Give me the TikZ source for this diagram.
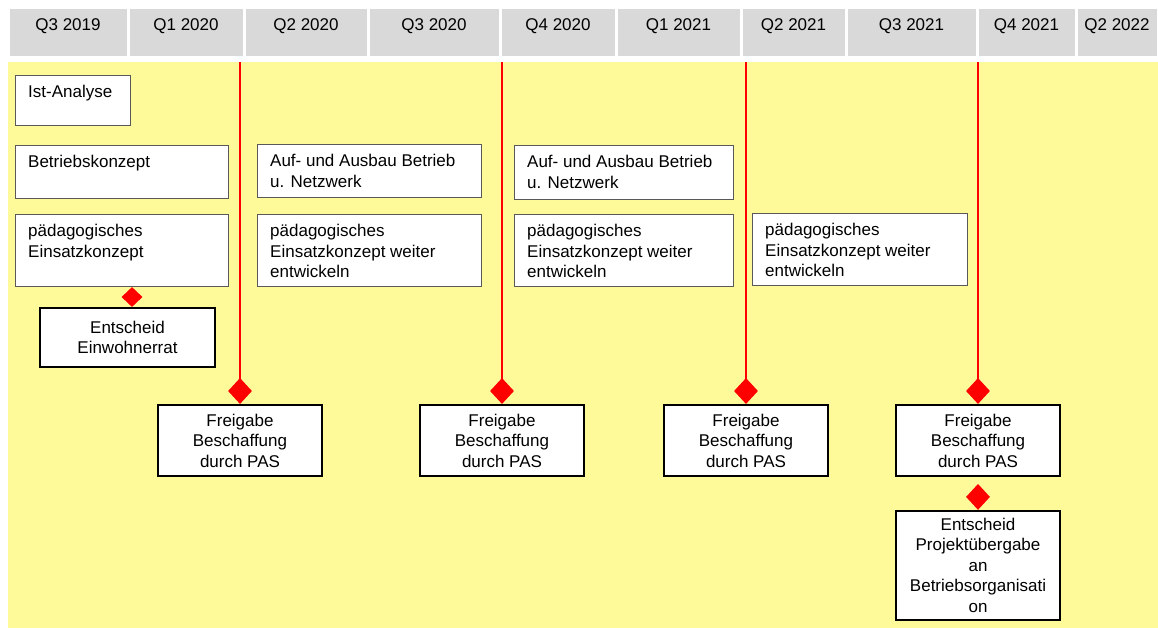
\documentclass[tikz,border=0pt]{standalone}
\usepackage{fontspec}
\setmainfont{Liberation Sans}
\usetikzlibrary{shapes.geometric}
\usetikzlibrary{positioning}

\begin{document}
\begin{tikzpicture}[x=1pt,y=-1pt,font=\fontsize{17}{20.5}\selectfont,
    qcell/.style={rectangle,fill=black!15,draw=white,line width=3pt,minimum height=50,inner sep=0pt,text height=12.3pt,text depth=18pt},
    task/.style={rectangle,draw=black!65,line width=1pt,fill=white,anchor=north west,inner sep=0pt},
    tl/.style={anchor=north west,align=left,inner xsep=13pt,inner ysep=10pt},
    mile/.style={rectangle,draw=black,line width=1.5pt,fill=white,align=center,minimum width=164,inner sep=0pt},
    gate/.style={diamond,fill=red,inner sep=0pt,minimum width=24,minimum height=26},
    redline/.style={-,red,line width=1.5pt}]
  \useasboundingbox (0,0) rectangle (1158,628);
  % quarters
  \node[qcell,minimum width=120] (q1) at (68,33) {Q3 2019};
  \node[qcell,minimum width=116] (q2) at (186,33) {Q1 2020};
  \node[qcell,minimum width=124] (q3) at (306,33) {Q2 2020};
  \node[qcell,minimum width=132] (q4) at (434,33) {Q3 2020};
  \node[qcell,minimum width=116] (q5) at (558,33) {Q4 2020};
  \node[qcell,minimum width=125] (q6) at (678.5,33) {Q1 2021};
  \node[qcell,minimum width=105] (q7) at (793.5,33) {Q2 2021};
  \node[qcell,minimum width=131] (q8) at (911.5,33) {Q3 2021};
  \node[qcell,minimum width=99] (q9) at (1026.5,33) {Q4 2021};
  \node[qcell,minimum width=82] (q10) at (1117,33) {Q2 2022};
  % area
  \fill[yellow!40] (8,62) rectangle (1158,628);
  % tasks
  \node[task,minimum width=115,minimum height=50,label={[tl]north west:Ist-Analyse}] (ist) at (15,75) {};
  \node[task,minimum width=213,minimum height=53,label={[tl]north west:Betriebskonzept}] (bk) at (15,145) {};
  \node[task,minimum width=213,minimum height=72,label={[tl]north west:pädagogisches\\Einsatzkonzept}] (pk1) at (15,214) {};
  \node[task,minimum width=224,minimum height=53,label={[tl]north west:Auf- und Ausbau Betrieb\\u. Netzwerk}] (ab1) at (257,144) {};
  \node[task,minimum width=224,minimum height=72,label={[tl]north west:pädagogisches\\Einsatzkonzept weiter\\entwickeln}] (pk2) at (257,214) {};
  \node[task,minimum width=219,minimum height=54,label={[tl]north west:Auf- und Ausbau Betrieb\\u. Netzwerk}] (ab2) at (514,145) {};
  \node[task,minimum width=219,minimum height=72,label={[tl]north west:pädagogisches\\Einsatzkonzept weiter\\entwickeln}] (pk3) at (514,214) {};
  \node[task,minimum width=215,minimum height=72,label={[tl]north west:pädagogisches\\Einsatzkonzept weiter\\entwickeln}] (pk4) at (752,213) {};
  % milestones
  \coordinate (t1) at (240,62);
  \coordinate (t2) at (502,62);
  \coordinate (t3) at (746,62);
  \coordinate (t4) at (978,62);
  \coordinate (b1) at (240,391);
  \coordinate (b2) at (502,391);
  \coordinate (b3) at (746,391);
  \coordinate (b4) at (978,391);
  \path[redline] (t1) edge (b1);
  \path[redline] (t2) edge (b2);
  \path[redline] (t3) edge (b3);
  \path[redline] (t4) edge (b4);
  \node[gate] (d1) at (b1) {};
  \node[gate] (d2) at (b2) {};
  \node[gate] (d3) at (b3) {};
  \node[gate] (d4) at (b4) {};
  \node[gate,minimum width=21,minimum height=20] (d0) at (132,297) {};
  \node[mile,minimum width=175,minimum height=59] (ew) at (127.5,337.5) {Entscheid\\Einwohnerrat};
  \node[mile,minimum height=71,below=0pt of d1] (f1) {Freigabe\\Beschaffung\\durch PAS};
  \node[mile,minimum height=71,below=0pt of d2] (f2) {Freigabe\\Beschaffung\\durch PAS};
  \node[mile,minimum height=71,below=0pt of d3] (f3) {Freigabe\\Beschaffung\\durch PAS};
  \node[mile,minimum height=71,below=0pt of d4] (f4) {Freigabe\\Beschaffung\\durch PAS};
  \node[gate,below=7pt of f4] (d5) {};
  \node[mile,minimum height=109,below=0pt of d5] (pu) {Entscheid\\Projektübergabe\\an\\Betriebsorganisati\\on};
\end{tikzpicture}
\end{document}
